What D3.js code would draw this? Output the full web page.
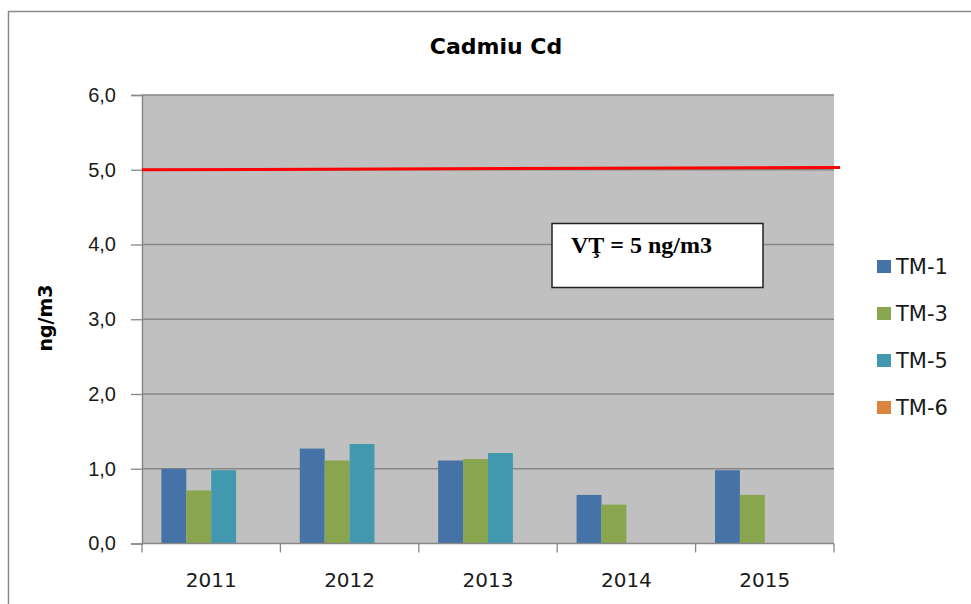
<!DOCTYPE html>
<html>
<head>
<meta charset="utf-8">
<script src="https://cdn.jsdelivr.net/npm/d3@7"></script>
<style>
  body { margin: 0; background: #fff; }
  svg { display: block; }
</style>
</head>
<body>
<script>
// data
const years = ['2011', '2012', '2013', '2014', '2015'];
const seriesNames = ['TM-1', 'TM-3', 'TM-5', 'TM-6'];
const tm1 = [1.00, 1.27, 1.11, 0.65, 0.98];
const tm3 = [0.71, 1.11, 1.13, 0.52, 0.65];
const tm5 = [0.98, 1.33, 1.21, null, null];
const tm6 = [null, null, null, null, null];
const yTicks = [0, 1, 2, 3, 4, 5, 6];
const limitLine = [5.0, 5.03];   // threshold drawn as a slightly tilted line
const limitLabel = 'VŢ = 5 ng/m3';

const colors = ['#4572A7', '#89A54E', '#4198AF', '#DB843D'];
const values = [tm1, tm3, tm5, tm6];

const W = 971, H = 604;
const plot = {left: 142, right: 834, top: 95, bottom: 543.5};

const svg = d3.select('body').append('svg')
  .attr('width', W)
  .attr('height', H)
  .style('font-family', '"DejaVu Sans", sans-serif');

// outer chart frame
svg.append('rect')
  .attr('x', 8.5).attr('y', 11.5)
  .attr('width', W + 10).attr('height', H + 10)
  .attr('fill', '#fff')
  .attr('stroke', '#8a8a8a')
  .attr('stroke-width', 1.5);

const x = d3.scaleBand()
  .domain(years)
  .range([plot.left, plot.right])
  .paddingInner(0.28)
  .paddingOuter(0.14);

const xs = d3.scaleBand()
  .domain(seriesNames)
  .range([0, x.bandwidth()]);

const y = d3.scaleLinear()
  .domain([0, 6])
  .range([plot.bottom, plot.top]);

// plot background
svg.append('rect')
  .attr('x', plot.left).attr('y', plot.top)
  .attr('width', plot.right - plot.left)
  .attr('height', plot.bottom - plot.top)
  .attr('fill', '#C0C0C0');

// gridlines
svg.append('g')
  .selectAll('line')
  .data(yTicks.filter(d => d > 0))
  .join('line')
  .attr('x1', plot.left).attr('x2', plot.right)
  .attr('y1', d => y(d)).attr('y2', d => y(d))
  .attr('stroke', '#878787')
  .attr('stroke-width', 1.3);

// bars
const rows = [];
years.forEach((yr, i) => {
  seriesNames.forEach((s, j) => {
    if (values[j][i] != null) rows.push({year: yr, series: s, value: values[j][i], color: colors[j]});
  });
});

svg.append('g')
  .selectAll('rect')
  .data(rows)
  .join('rect')
  .attr('x', d => x(d.year) + xs(d.series))
  .attr('width', xs.bandwidth())
  .attr('y', d => y(d.value))
  .attr('height', d => y(0) - y(d.value))
  .attr('fill', d => d.color);

// y axis
const yAxis = d3.axisLeft(y)
  .tickValues(yTicks)
  .tickSize(11)
  .tickPadding(15)
  .tickFormat(d => d3.format('.1f')(d).replace('.', ','));

const gy = svg.append('g')
  .attr('transform', 'translate(' + plot.left + ',0)')
  .call(yAxis);
gy.select('.domain').attr('stroke', '#878787').attr('stroke-width', 1.5);
gy.selectAll('.tick line').attr('stroke', '#878787').attr('stroke-width', 1.3);
gy.selectAll('.tick text').attr('font-size', 20).attr('fill', '#1a1a1a');

// x axis, ticks on the category boundaries
const gx = svg.append('g')
  .attr('transform', 'translate(0,' + plot.bottom + ')');
gx.append('line')
  .attr('x1', plot.left).attr('x2', plot.right)
  .attr('stroke', '#878787').attr('stroke-width', 1.5);
const bounds = years.map(d => x(d) - x.step() * x.paddingInner() / 2)
  .concat([plot.right]);
gx.selectAll('line.tk')
  .data(bounds)
  .join('line')
  .attr('class', 'tk')
  .attr('x1', d => d).attr('x2', d => d)
  .attr('y1', 0).attr('y2', 9)
  .attr('stroke', '#878787').attr('stroke-width', 1.3);
gx.selectAll('text')
  .data(years)
  .join('text')
  .attr('x', d => x(d) + x.bandwidth() / 2)
  .attr('y', 43)
  .attr('text-anchor', 'middle')
  .attr('font-size', 20)
  .attr('fill', '#1a1a1a')
  .text(d => d);

// threshold line
svg.append('line')
  .attr('x1', plot.left).attr('x2', 840)
  .attr('y1', y(limitLine[0])).attr('y2', y(limitLine[1]))
  .attr('stroke', '#ff0000')
  .attr('stroke-width', 3);

// annotation box
svg.append('rect')
  .attr('x', 552).attr('y', 223.5)
  .attr('width', 211).attr('height', 64)
  .attr('fill', '#fff')
  .attr('stroke', '#222')
  .attr('stroke-width', 1.5);
svg.append('text')
  .attr('x', 571).attr('y', 253)
  .attr('font-family', '"Liberation Serif", serif')
  .attr('font-weight', 'bold')
  .attr('font-size', 24)
  .text(limitLabel);

// title
svg.append('text')
  .attr('x', 496).attr('y', 54)
  .attr('text-anchor', 'middle')
  .attr('font-size', 22)
  .attr('font-weight', 'bold')
  .text('Cadmiu Cd');

// y axis title
svg.append('text')
  .attr('transform', 'translate(52,318) rotate(-90)')
  .attr('text-anchor', 'middle')
  .attr('font-size', 19)
  .attr('font-weight', 'bold')
  .text('ng/m3');

// legend
const legend = svg.append('g')
  .selectAll('g')
  .data(seriesNames)
  .join('g')
  .attr('transform', (d, i) => 'translate(877,' + (267 + i * 47) + ')');
legend.append('rect')
  .attr('x', 0).attr('y', -7)
  .attr('width', 14).attr('height', 13)
  .attr('fill', (d, i) => colors[i]);
legend.append('text')
  .attr('x', 19).attr('y', 7)
  .attr('font-size', 21)
  .attr('fill', '#1a1a1a')
  .text(d => d);
</script>
</body>
</html>
